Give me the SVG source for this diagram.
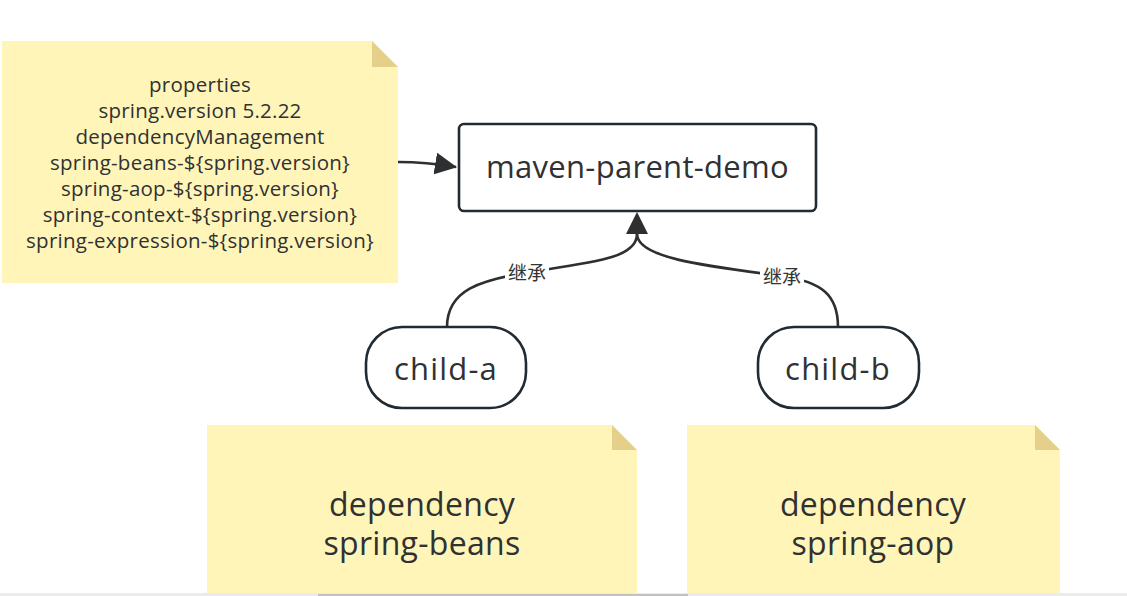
<svg xmlns="http://www.w3.org/2000/svg" width="1127" height="596" viewBox="0 0 1127 596">
<defs>
<style>
.note{fill:#fff5b9;}
.fold{fill:#e5d08b;}
.box{fill:#ffffff;stroke:#222a32;stroke-width:2.6;}
.t{font-family:"Open Sans","Noto Sans","Liberation Sans",sans-serif;fill:#2f3133;text-anchor:middle;}
.s{font-size:20.5px;letter-spacing:0.25px;}
.lbl{font-family:"Noto Sans CJK SC","Open Sans",sans-serif;fill:#333333;text-anchor:middle;font-size:19px;}
.edge{fill:none;stroke:#2e2f30;stroke-width:2.6;}
.b{font-size:32px;letter-spacing:0.3px;}
.c{font-size:31px;letter-spacing:1.2px;}
</style>
<marker id="ah2" markerWidth="22" markerHeight="22" viewBox="0 0 22 22" refX="21" refY="11" orient="auto" markerUnits="userSpaceOnUse">
<path d="M0,0 L22,11 L0,22 z" fill="#2e2f30"/>
</marker>
</defs>
<rect width="1127" height="596" fill="#ffffff"/>

<g id="connectors">
<path class="edge" d="M398,162 C420,162 438,164 456,167" marker-end="url(#ah2)"/>
<path class="edge" d="M447,327 C447,290 480,280 530,272 C595,262 637,258 637,234 L637,233" />
<path class="edge" d="M838,327 C838,295 822,282 782,276 C705,266 637,258 637,234" />
<path d="M626,234 L637,212 L648,234 z" fill="#2e2f30"/>
<rect x="505" y="261" width="44" height="23" fill="#ffffff"/>
<text class="lbl" x="527" y="280">继承</text>
<rect x="760" y="265" width="44" height="23" fill="#ffffff"/>
<text class="lbl" x="782" y="284">继承</text>
</g>

<g id="note-props">
<path class="note" d="M2,41 L372,41 L398,67 L398,283 L2,283 z"/>
<path class="fold" d="M372,41 L398,67 L372,67 z"/>
<text class="t s" x="200" y="92">properties</text>
<text class="t s" x="200" y="118">spring.version 5.2.22</text>
<text class="t s" x="200" y="144">dependencyManagement</text>
<text class="t s" x="200" y="170">spring-beans-${spring.version}</text>
<text class="t s" x="200" y="196">spring-aop-${spring.version}</text>
<text class="t s" x="200" y="222">spring-context-${spring.version}</text>
<text class="t s" x="200" y="248">spring-expression-${spring.version}</text>
</g>

<g id="parent">
<rect class="box" x="459" y="124" width="357" height="87" rx="5"/>
<text class="t" font-size="31" letter-spacing="0.3" x="637.5" y="178">maven-parent-demo</text>
</g>

<g id="child-a">
<rect class="box" x="366" y="327" width="160" height="81" rx="36"/>
<text class="t c" x="446" y="380">child-a</text>
</g>

<g id="child-b">
<rect class="box" x="758" y="327" width="161" height="81" rx="36"/>
<text class="t c" x="838" y="380">child-b</text>
</g>

<g id="note-a">
<path class="note" d="M207,425 L612,425 L637,450 L637,593 L207,593 z"/>
<path class="fold" d="M612,425 L637,450 L612,450 z"/>
<text class="t b" x="422" y="516">dependency</text>
<text class="t b" x="422" y="555">spring-beans</text>
</g>

<g id="note-b">
<path class="note" d="M687,425 L1035,425 L1060,450 L1060,593 L687,593 z"/>
<path class="fold" d="M1035,425 L1060,450 L1035,450 z"/>
<text class="t b" x="873" y="516">dependency</text>
<text class="t b" x="873" y="555">spring-aop</text>
</g>

<g id="scrollbar">
<rect x="0" y="593" width="1127" height="3" fill="#ebebeb"/>
<rect x="318" y="594" width="370" height="2" fill="#c1c1c1"/>
</g>
</svg>
